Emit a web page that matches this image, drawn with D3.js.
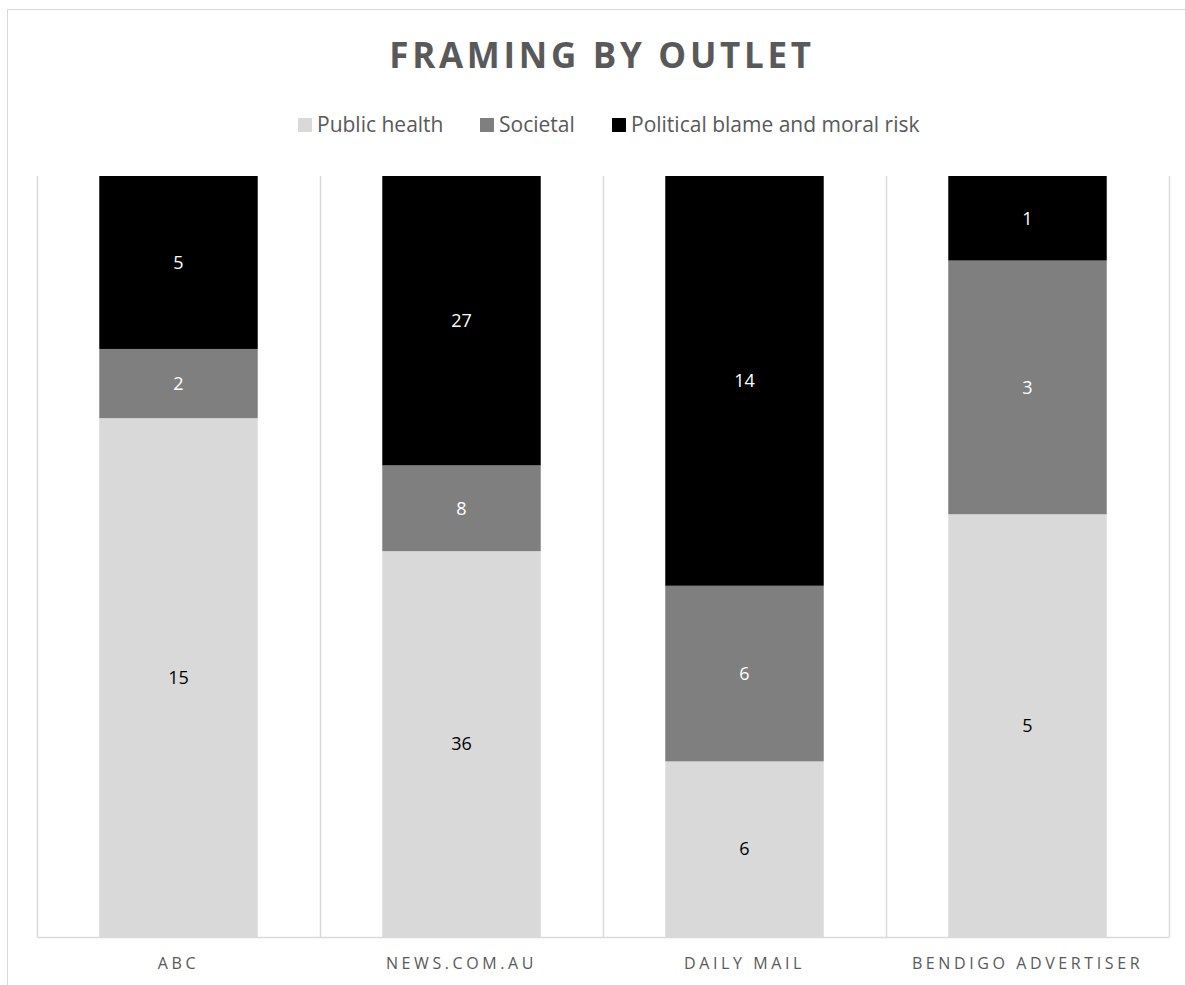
<!DOCTYPE html>
<html>
<head>
<meta charset="utf-8">
<script src="https://cdn.jsdelivr.net/npm/d3@7"></script>
<style>
  body { margin: 0; background: #fff; }
  text { font-family: "Open Sans", sans-serif; }
</style>
</head>
<body>
<svg id="chart" width="1185" height="985"></svg>
<script>
// outlets and framing counts
var outlets = ['ABC', 'NEWS.COM.AU', 'DAILY MAIL', 'BENDIGO ADVERTISER'];
var frames = ['Public health', 'Societal', 'Political blame and moral risk'];
var publicHealth = [15, 36, 6, 5];
var societal = [2, 8, 6, 3];
var political = [5, 27, 14, 1];

var colours = ['#d9d9d9', '#7f7f7f', '#000000'],
    labelColours = ['#000000', '#ffffff', '#ffffff'];

var svg = d3.select('#chart');

// chart border (cropped at right and bottom)
svg.append('rect')
    .attr('x', 7.5).attr('y', 9.5)
    .attr('width', 1200).attr('height', 1000)
    .attr('fill', '#fff')
    .attr('stroke', '#d9d9d9');

svg.append('text')
    .attr('x', 602).attr('y', 68)
    .attr('text-anchor', 'middle')
    .attr('font-size', 35).attr('font-weight', 'bold')
    .attr('letter-spacing', 3.7)
    .attr('fill', '#595959')
    .text('FRAMING BY OUTLET');

var rows = outlets.map(function (o, i) {
    return { outlet: o, 0: publicHealth[i], 1: societal[i], 2: political[i],
             total: publicHealth[i] + societal[i] + political[i] };
});

var stack = d3.stack().keys([0, 1, 2])
    .value(function (d, k) { return d[k] / d.total; });
var series = stack(rows);

var plotL = 37, plotR = 1169, plotT = 176, plotB = 937;

var x = d3.scaleBand().domain(outlets).range([plotL, plotR]).paddingInner(0).paddingOuter(0);
var y = d3.scaleLinear().domain([0, 1]).range([plotB, plotT]);
var barW = x.bandwidth() * 0.56;

// vertical gridlines at category boundaries
var gridXs = outlets.map(function (o) { return x(o); }).concat([plotR]);
svg.append('g').selectAll('line').data(gridXs).enter().append('line')
    .attr('x1', function (d) { return Math.round(d) + 0.5; })
    .attr('x2', function (d) { return Math.round(d) + 0.5; })
    .attr('y1', plotT).attr('y2', plotB)
    .attr('stroke', '#d9d9d9').attr('stroke-width', 1.5);

var groups = svg.append('g').selectAll('g').data(series).enter().append('g')
    .attr('fill', function (d, i) { return colours[i]; });

groups.selectAll('rect').data(function (d) { return d; }).enter().append('rect')
    .attr('x', function (d) { return x(d.data.outlet) + (x.bandwidth() - barW) / 2; })
    .attr('width', barW)
    .attr('y', function (d) { return y(d[1]); })
    .attr('height', function (d) { return y(d[0]) - y(d[1]); });

series.forEach(function (s, i) {
    svg.append('g').selectAll('text').data(s).enter().append('text')
        .attr('x', function (d) { return x(d.data.outlet) + x.bandwidth() / 2; })
        .attr('y', function (d) { return (y(d[0]) + y(d[1])) / 2; })
        .attr('dy', '0.35em')
        .attr('text-anchor', 'middle')
        .attr('font-size', 18)
        .attr('fill', labelColours[i])
        .text(function (d) { return d.data[i]; });
});

// x axis
var xAxis = svg.append('g')
    .attr('transform', 'translate(0,' + plotB + ')')
    .call(d3.axisBottom(x).tickSize(0).tickPadding(21));
xAxis.select('.domain').attr('stroke', '#d9d9d9').attr('stroke-width', 1.5);
xAxis.selectAll('text')
    .attr('font-family', '"Open Sans", sans-serif')
    .attr('font-size', 16)
    .attr('letter-spacing', 3.6)
    .attr('fill', '#595959');

// legend
var legendX = [298, 480, 612];
var legend = svg.append('g').selectAll('g').data(frames).enter().append('g')
    .attr('transform', function (d, i) { return 'translate(' + legendX[i] + ',125)'; });
legend.append('rect')
    .attr('x', 0).attr('y', -7).attr('width', 14).attr('height', 14)
    .attr('fill', function (d, i) { return colours[i]; });
legend.append('text')
    .attr('x', 19).attr('dy', '0.35em')
    .attr('font-size', 21)
    .attr('fill', '#595959')
    .text(function (d) { return d; });
</script>
</body>
</html>
